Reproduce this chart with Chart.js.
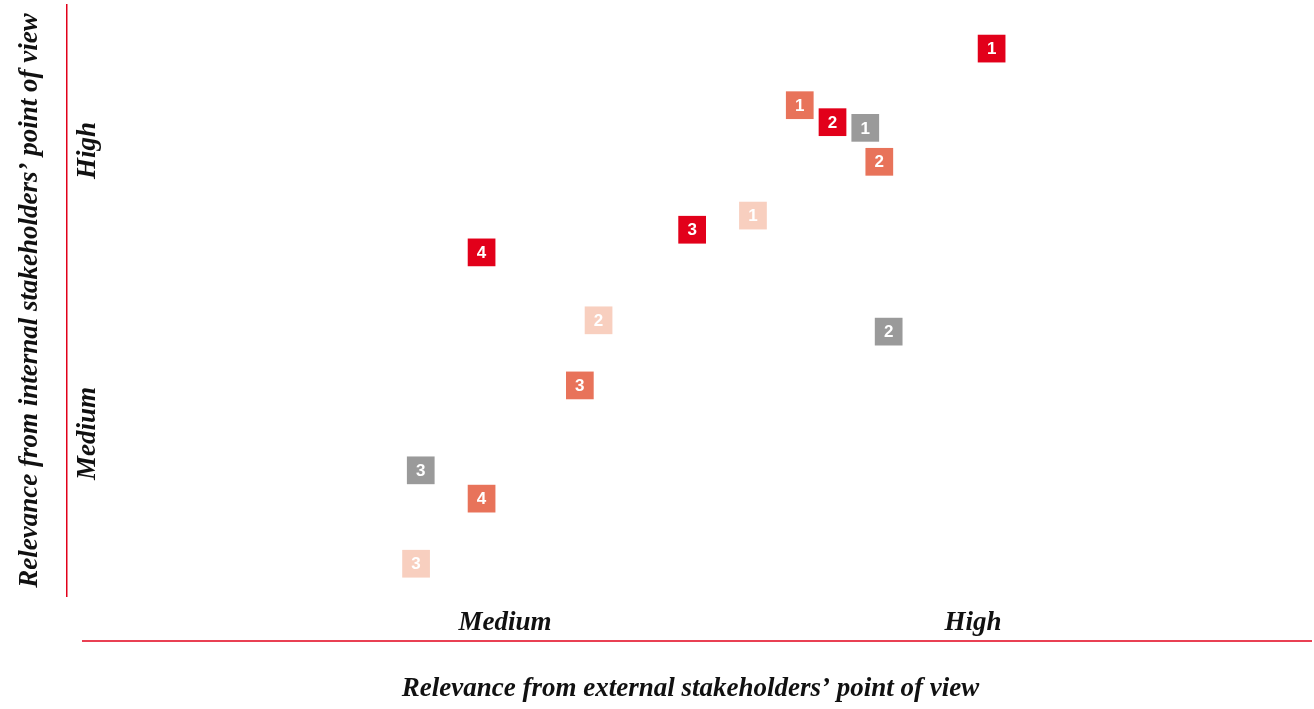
<!DOCTYPE html>
<html>
<head>
<meta charset="utf-8">
<script src="https://cdn.jsdelivr.net/npm/chart.js@4.4.1/dist/chart.umd.min.js"></script>
<style>
  html, body { margin: 0; padding: 0; background: #fff; }
  #wrap { width: 1314px; height: 709px; position: relative; }
</style>
</head>
<body>
<div id="wrap"><canvas id="matrix"></canvas></div>
<script>
// axis ticks: 2 = Medium, 3 = High
const tickValues = [2, 3];
const tickLabels = ['Medium', 'High'];

// external relevance (x) / internal relevance (y) per topic group
const redX = [3.04, 2.70, 2.40, 1.95];
const redY = [3.36, 3.10, 2.72, 2.64];
const redNums = ['1', '2', '3', '4'];

const salmonX = [2.63, 2.80, 2.16, 1.95];
const salmonY = [3.16, 2.96, 2.17, 1.77];
const salmonNums = ['1', '2', '3', '4'];

const peachX = [2.53, 2.20, 1.81];
const peachY = [2.77, 2.40, 1.54];
const peachNums = ['1', '2', '3'];

const greyX = [2.77, 2.82, 1.82];
const greyY = [3.08, 2.36, 1.87];
const greyNums = ['1', '2', '3'];

const RED = '#e2001a';
const serif = "'Liberation Serif', 'DejaVu Serif', serif";
const axisFont = { family: serif, size: 27, style: 'italic', weight: 'bold' };

const toPoints = (xs, ys) => xs.map((x, i) => ({ x, y: ys[i] }));

const series = (pts, nums, color) => ({
  data: pts,
  nums,
  pointStyle: 'rect',
  pointRadius: 19.6,
  pointHoverRadius: 19.6,
  backgroundColor: color,
  borderWidth: 0,
  showLine: false,
});

// y tick labels sit inside the plot, just right of the red axis line
const mctx = document.createElement('canvas').getContext('2d');
mctx.font = 'italic bold 27px ' + serif;
const widest = Math.max(...tickLabels.map(t => mctx.measureText(t).width));
const yTickPad = 21 - widest / 2;

const pick = (scale) => {
  scale.ticks = tickValues.map(v => ({ value: v }));
};
const nameOf = (v) => tickLabels[tickValues.indexOf(v)];

// numbers in the boxes + the bottom axis line
const extras = {
  id: 'extras',
  afterDatasetsDraw(chart) {
    const { ctx, chartArea } = chart;
    ctx.save();
    ctx.fillStyle = '#fff';
    ctx.font = "bold 17px 'Liberation Sans', Arial, sans-serif";
    ctx.textAlign = 'center';
    ctx.textBaseline = 'middle';
    chart.data.datasets.forEach((ds, di) => {
      chart.getDatasetMeta(di).data.forEach((pt, i) => {
        ctx.fillText(ds.nums[i], pt.x, pt.y + 1);
      });
    });
    ctx.strokeStyle = RED;
    ctx.lineWidth = 1.5;
    ctx.beginPath();
    ctx.moveTo(chartArea.left + 15, chartArea.bottom + 45);
    ctx.lineTo(chartArea.right - 2, chartArea.bottom + 45);
    ctx.stroke();
    ctx.restore();
  }
};

new Chart(document.getElementById('matrix'), {
  type: 'scatter',
  data: {
    datasets: [
      series(toPoints(greyX, greyY), greyNums, '#9a9a9a'),
      series(toPoints(peachX, peachY), peachNums, '#f8cfbf'),
      series(toPoints(salmonX, salmonY), salmonNums, '#e8735a'),
      series(toPoints(redX, redY), redNums, RED),
    ]
  },
  options: {
    responsive: true,
    maintainAspectRatio: false,
    animation: false,
    events: [],
    layout: { autoPadding: false, padding: { top: 5, right: 0, left: 0, bottom: 0 } },
    plugins: { legend: { display: false }, tooltip: { enabled: false } },
    scales: {
      x: {
        min: 1.064,
        max: 3.729,
        afterBuildTicks: pick,
        afterFit(scale) {
          scale.height = 113;
          scale.paddingLeft = 0;
          scale.paddingRight = 0;
        },
        grid: { display: false, drawTicks: false },
        border: { display: false },
        ticks: { font: axisFont, color: '#111', padding: 11, callback: nameOf },
        title: {
          display: true,
          text: 'Relevance from external stakeholders\u2019 point of view',
          font: axisFont,
          color: '#111',
          padding: { top: 0, bottom: 4 },
        },
      },
      y: {
        min: 1.426,
        max: 3.514,
        afterBuildTicks: pick,
        afterFit(scale) {
          scale.width = 67;
          scale.paddingTop = 0;
          scale.paddingBottom = 0;
        },
        grid: { display: false, drawTicks: false },
        border: { display: true, color: RED, width: 1.5 },
        ticks: {
          font: axisFont,
          color: '#111',
          mirror: true,
          crossAlign: 'center',
          minRotation: 90,
          maxRotation: 90,
          padding: yTickPad,
          callback: nameOf,
        },
        title: {
          display: true,
          text: 'Relevance from internal stakeholders\u2019 point of view',
          font: axisFont,
          color: '#111',
          padding: { top: 14, bottom: 0 },
        },
      },
    },
  },
  plugins: [extras],
});
</script>
</body>
</html>
